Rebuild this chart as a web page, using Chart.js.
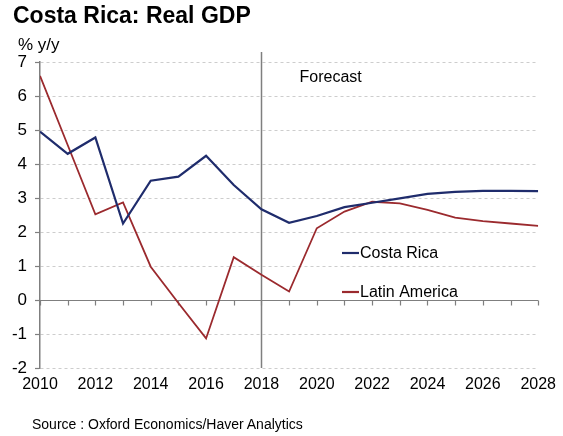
<!DOCTYPE html>
<html>
<head>
<meta charset="utf-8">
<script src="https://cdn.jsdelivr.net/npm/chart.js@4.4.1/dist/chart.umd.min.js"></script>
<style>
  body { margin: 0; background: #fff; font-family: "Liberation Sans", Arial, sans-serif; }
  #wrap { position: relative; width: 563px; height: 436px; }
  #title { position: absolute; left: 13px; top: 2px; font-size: 23px; font-weight: bold; color: #000; }
  #unit { position: absolute; left: 18px; top: 35px; font-size: 17px; color: #000; }
  #source { position: absolute; left: 32px; top: 416px; font-size: 14px; color: #000; }
  canvas { position: absolute; left: 0; top: 0; }
</style>
</head>
<body>
<div id="wrap">
  <canvas id="gdp" width="563" height="436"></canvas>
  <div id="title">Costa Rica: Real GDP</div>
  <div id="unit">% y/y</div>
  <div id="source">Source : Oxford Economics/Haver Analytics</div>
</div>
<script>
// data
const years = [2010, 2011, 2012, 2013, 2014, 2015, 2016, 2017, 2018, 2019,
               2020, 2021, 2022, 2023, 2024, 2025, 2026, 2027, 2028];
const costaRica = [4.95, 4.3, 4.78, 2.25, 3.51, 3.63, 4.24, 3.38, 2.67, 2.27,
                   2.47, 2.73, 2.86, 2.99, 3.12, 3.18, 3.21, 3.21, 3.2];
const latinAmerica = [6.59, 4.56, 2.52, 2.87, 0.98, -0.09, -1.13, 1.26, 0.74, 0.25,
                      2.11, 2.6, 2.89, 2.84, 2.65, 2.42, 2.32, 2.25, 2.18];
const forecastYear = 2018;
const yMin = -2, yMax = 7;

const blue = '#1f2c6c';
const red = '#9b2a2e';
const axisGrey = '#7f7f7f';
const fontFamily = '"Liberation Sans", Arial, sans-serif';

function toPoints(arr) {
    return years.map((y, i) => ({ x: y, y: arr[i] }));
}

// zero line with year ticks, forecast divider, legend
const extras = {
    id: 'extras',
    beforeDatasetsDraw(chart) {
        const ctx = chart.ctx;
        const xs = chart.scales.x, ys = chart.scales.y;
        const area = chart.chartArea;
        const y0 = Math.round(ys.getPixelForValue(0)) + 0.5;
        ctx.save();
        ctx.strokeStyle = axisGrey;
        ctx.lineWidth = 1.2;
        ctx.beginPath();
        ctx.moveTo(area.left, y0);
        ctx.lineTo(area.right, y0);
        years.forEach(yr => {
            const px = Math.round(xs.getPixelForValue(yr)) + 0.5;
            ctx.moveTo(px, y0);
            ctx.lineTo(px, y0 + 5);
        });
        ctx.stroke();

        // forecast line
        const fx = Math.round(xs.getPixelForValue(forecastYear)) + 0.5;
        ctx.lineWidth = 1.5;
        ctx.beginPath();
        ctx.moveTo(fx, area.top - 10);
        ctx.lineTo(fx, area.bottom);
        ctx.stroke();

        ctx.fillStyle = '#000';
        ctx.font = '16px ' + fontFamily;
        ctx.textBaseline = 'middle';
        ctx.fillText('Forecast', fx + 38, 78);
        ctx.restore();
    },
    afterDraw(chart) {
        const ctx = chart.ctx;
        ctx.save();
        ctx.font = '16px ' + fontFamily;
        ctx.textBaseline = 'middle';
        const rows = [[chart.data.datasets[0], 253], [chart.data.datasets[1], 292]];
        rows.forEach(([ds, ly]) => {
            ctx.strokeStyle = ds.borderColor;
            ctx.lineWidth = 2.2;
            ctx.beginPath();
            ctx.moveTo(342, ly);
            ctx.lineTo(359, ly);
            ctx.stroke();
            ctx.fillStyle = '#000';
            ctx.fillText(ds.label, 360, ly + 1);
        });
        ctx.restore();
    }
};

new Chart(document.getElementById('gdp'), {
    type: 'line',
    data: {
        datasets: [
            {
                label: 'Costa Rica',
                data: toPoints(costaRica),
                borderColor: blue,
                borderWidth: 2.2,
                pointRadius: 0,
                tension: 0
            },
            {
                label: 'Latin America',
                data: toPoints(latinAmerica),
                borderColor: red,
                borderWidth: 1.8,
                pointRadius: 0,
                tension: 0
            }
        ]
    },
    options: {
        responsive: false,
        animation: false,
        layout: { padding: { left: 0, right: 24, top: 62, bottom: 0 } },
        plugins: {
            legend: { display: false },
            tooltip: { enabled: false }
        },
        scales: {
            x: {
                type: 'linear',
                min: 2010,
                max: 2028,
                afterFit: s => { s.height = 68; },
                ticks: {
                    stepSize: 1,
                    autoSkip: false,
                    maxRotation: 0,
                    padding: 7,
                    color: '#000',
                    font: { family: fontFamily, size: 16 },
                    callback: v => (v % 2 === 0 ? String(v) : '')
                },
                grid: { display: false, drawTicks: false },
                border: { display: false }
            },
            y: {
                min: yMin,
                max: yMax,
                afterFit: s => { s.width = 40; },
                ticks: {
                    stepSize: 1,
                    padding: 8,
                    color: '#000',
                    font: { family: fontFamily, size: 17 }
                },
                grid: {
                    color: '#cdcdcd',
                    lineWidth: 1,
                    tickLength: 5,
                    tickColor: axisGrey,
                    tickWidth: 1.2
                },
                border: { display: true, color: axisGrey, width: 1.5, dash: [3, 3] }
            }
        }
    },
    plugins: [extras]
});
</script>
</body>
</html>
